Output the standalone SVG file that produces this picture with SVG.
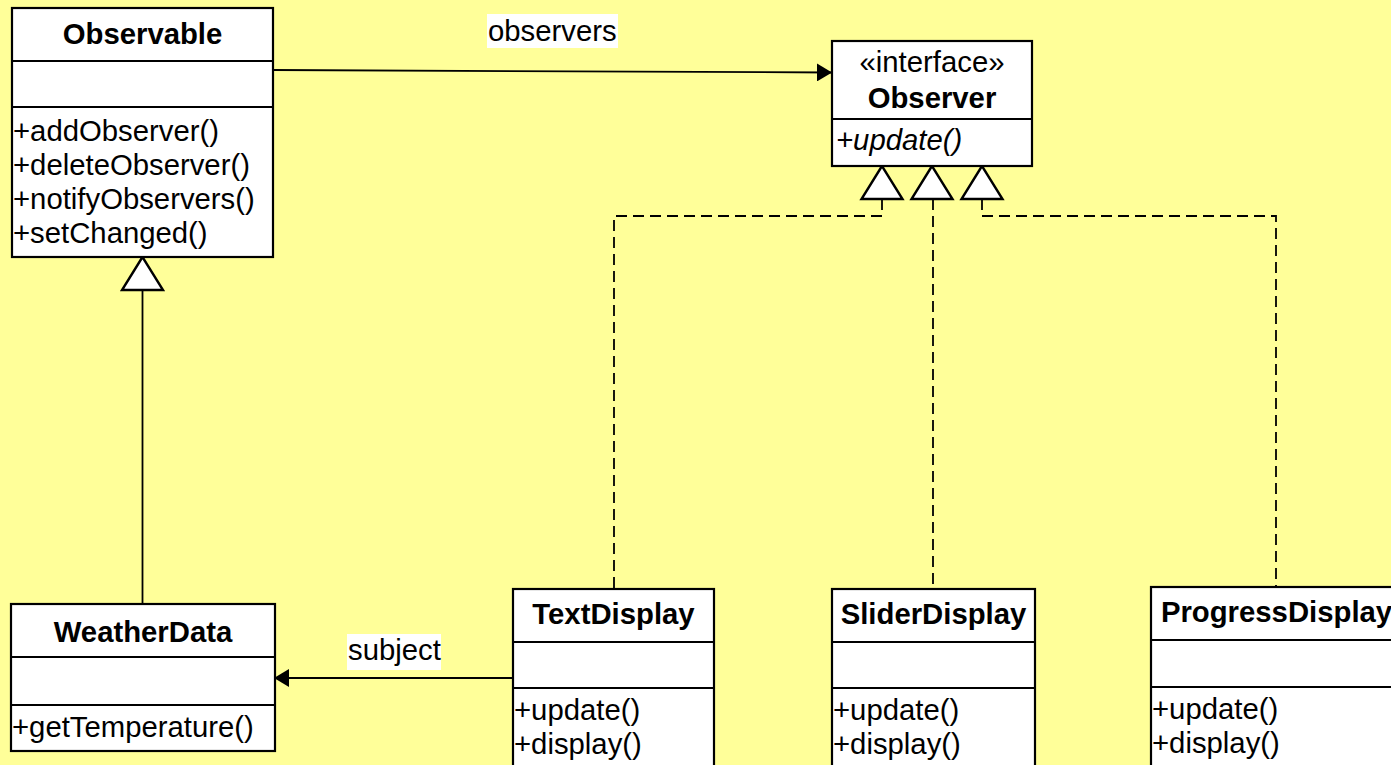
<svg xmlns="http://www.w3.org/2000/svg" width="1391" height="765" viewBox="0 0 1391 765">
  <style>
    .box { fill: #ffffff; stroke: #000000; stroke-width: 2.2; }
    .sep { stroke: #000000; stroke-width: 2.2; }
    .title { font-family: "Liberation Sans", Arial, sans-serif; font-size: 29.3px; font-weight: bold; text-anchor: middle; fill: #000; }
    .member { font-family: "Liberation Sans", Arial, sans-serif; font-size: 29.3px; fill: #000; }
    .stereo { font-family: "Liberation Sans", Arial, sans-serif; font-size: 29.3px; text-anchor: middle; fill: #000; }
    .abstract { font-style: italic; }
    .label { font-family: "Liberation Sans", Arial, sans-serif; font-size: 29.3px; fill: #000; }
    .labelbg { fill: #ffffff; }
    .assoc { fill: none; stroke: #000000; stroke-width: 1.8; }
    .realize { fill: none; stroke: #000000; stroke-width: 1.8; stroke-dasharray: 11 6; }
    .inherit { fill: #ffffff; stroke: #000000; stroke-width: 2.4; stroke-linejoin: miter; }
  </style>
  <defs>
    <marker id="navArrow" markerWidth="16" markerHeight="18" refX="15" refY="9" orient="auto" markerUnits="userSpaceOnUse">
      <path d="M0,0 L15,9 L0,18 Z" fill="#000000"/>
    </marker>
  </defs>

  <rect x="0" y="0" width="1391" height="765" fill="#ffff99"/>

  <!-- connectors -->
  <g id="connectors">
    <!-- Observable -> Observer association -->
    <path class="assoc" d="M273,70 L832,72.5" marker-end="url(#navArrow)"/>
    <rect class="labelbg" x="487" y="14" width="131" height="34"/>
    <text class="label" x="488" y="41">observers</text>

    <!-- TextDisplay -> WeatherData association -->
    <path class="assoc" d="M513,678 L274,678" marker-end="url(#navArrow)"/>
    <rect class="labelbg" x="347" y="634" width="94" height="36"/>
    <text class="label" x="348" y="660">subject</text>

    <!-- WeatherData generalizes Observable -->
    <line class="assoc" x1="142.5" y1="290" x2="142.5" y2="604"/>
    <polygon class="inherit" points="142.5,257 122,290 163,290"/>

    <!-- realizations of Observer -->
    <path class="realize" d="M882,199 V216 H614 V589"/>
    <path class="realize" d="M933,199 V589"/>
    <path class="realize" d="M982,199 V216 H1276 V587"/>
    <polygon class="inherit" points="882,166 861.5,199 902.5,199"/>
    <polygon class="inherit" points="932,166 911.5,199 952.5,199"/>
    <polygon class="inherit" points="982,166 961.5,199 1002.5,199"/>
  </g>

  <!-- Observable -->
  <g id="observable">
    <rect class="box" x="12" y="8" width="261" height="249"/>
    <line class="sep" x1="12" y1="61" x2="273" y2="61"/>
    <line class="sep" x1="12" y1="107" x2="273" y2="107"/>
    <text class="title" x="142.5" y="44">Observable</text>
    <text class="member" x="13" y="141">+addObserver()</text>
    <text class="member" x="13" y="175">+deleteObserver()</text>
    <text class="member" x="13" y="209">+notifyObservers()</text>
    <text class="member" x="13" y="243">+setChanged()</text>
  </g>

  <!-- Observer interface -->
  <g id="observer">
    <rect class="box" x="832" y="41" width="200" height="125"/>
    <line class="sep" x1="832" y1="119" x2="1032" y2="119"/>
    <text class="stereo" x="932" y="72">«interface»</text>
    <text class="title" x="932" y="108">Observer</text>
    <text class="member abstract" x="836" y="150">+update()</text>
  </g>

  <!-- WeatherData -->
  <g id="weatherdata">
    <rect class="box" x="11" y="604" width="264" height="147"/>
    <line class="sep" x1="11" y1="657" x2="275" y2="657"/>
    <line class="sep" x1="11" y1="705" x2="275" y2="705"/>
    <text class="title" x="143" y="642">WeatherData</text>
    <text class="member" x="12" y="737">+getTemperature()</text>
  </g>

  <!-- TextDisplay -->
  <g id="textdisplay">
    <rect class="box" x="513" y="589" width="201" height="200"/>
    <line class="sep" x1="513" y1="642" x2="714" y2="642"/>
    <line class="sep" x1="513" y1="688" x2="714" y2="688"/>
    <text class="title" x="613.5" y="624">TextDisplay</text>
    <text class="member" x="514" y="720">+update()</text>
    <text class="member" x="514" y="754">+display()</text>
  </g>

  <!-- SliderDisplay -->
  <g id="sliderdisplay">
    <rect class="box" x="832" y="589" width="203" height="200"/>
    <line class="sep" x1="832" y1="642" x2="1035" y2="642"/>
    <line class="sep" x1="832" y1="688" x2="1035" y2="688"/>
    <text class="title" x="933.5" y="624">SliderDisplay</text>
    <text class="member" x="833" y="720">+update()</text>
    <text class="member" x="833" y="754">+display()</text>
  </g>

  <!-- ProgressDisplay -->
  <g id="progressdisplay">
    <rect class="box" x="1151" y="587" width="251" height="200"/>
    <line class="sep" x1="1151" y1="640" x2="1402" y2="640"/>
    <line class="sep" x1="1151" y1="687" x2="1402" y2="687"/>
    <text class="title" x="1276.5" y="622">ProgressDisplay</text>
    <text class="member" x="1152" y="719">+update()</text>
    <text class="member" x="1152" y="753">+display()</text>
  </g>
</svg>
